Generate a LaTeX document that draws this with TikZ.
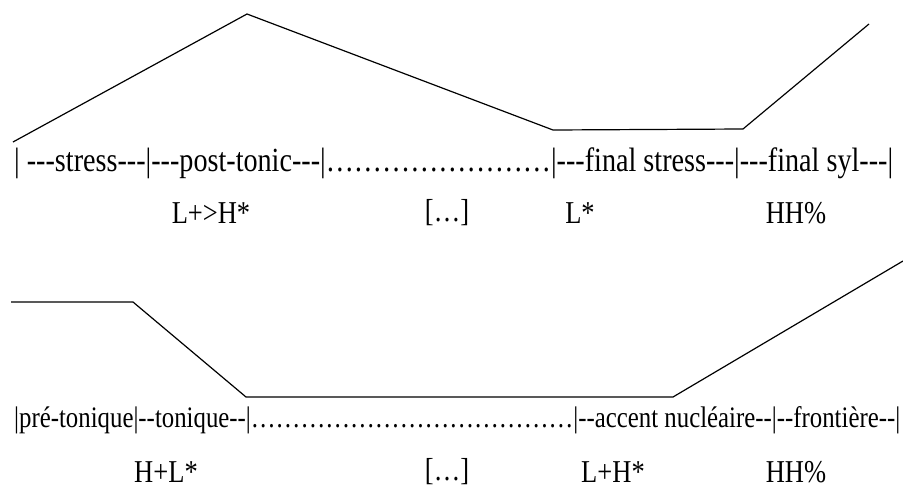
\documentclass[tikz,border=0pt]{standalone}
\usepackage{fontspec}
\setmainfont{Liberation Serif}[Ligatures=TeXOff]
\usepackage{graphicx}

% text in the picture is a little taller than wide
\newcommand{\vstretch}[1]{\scalebox{1}[1.2]{#1}}

\begin{document}
\begin{tikzpicture}[
    x=1pt, y=-1pt,
    every node/.style={inner sep=0pt},
    tier/.style={anchor=west, font=\fontsize{28}{32}\selectfont},
    tone/.style={anchor=center, font=\fontsize{26.5}{30}\selectfont},
    contour/.style={line width=1.2pt, line join=miter},
]
\useasboundingbox (0,0) rectangle (903,490);

% === TOP: stress / final syllable ===
\coordinate (t0) at (13,142);
\coordinate (t1) at (247,14);
\coordinate (t2) at (553,130);
\coordinate (t3) at (743,129);
\coordinate (t4) at (869,24);
\draw[contour] (t0) -- (t1) -- (t2) -- (t3) -- (t4);

\node[tier] (ttier) at (14,163) {\vstretch{\resizebox{879pt}{!}{| ---stress---|---post-tonic---|……………………|---final stress---|---final syl---|}}};

\node[tone] (tLH) at (211,213) {\vstretch{L+>H*}};
\node[tone] (tmid) at (447,213) {\vstretch{[…]}};
\node[tone] (tL) at (580,213) {\vstretch{L*}};
\node[tone] (tHH) at (796,213) {\vstretch{HH\%}};

% === BOTTOM: pré-tonique / frontière ===
\coordinate (b0) at (11,302);
\coordinate (b1) at (133,302);
\coordinate (b2) at (246,397);
\coordinate (b3) at (673,397);
\coordinate (b4) at (903,261);
\draw[contour] (b0) -- (b1) -- (b2) -- (b3) -- (b4);

\node[tier] (btier) at (14,420) {\vstretch{\resizebox{886pt}{!}{|pré-tonique|--tonique--|…………………………………|--accent nucléaire--|--frontière--|}}};

\node[tone] (bHL) at (166,472) {\vstretch{H+L*}};
\node[tone] (bmid) at (447,472) {\vstretch{[…]}};
\node[tone] (bLH) at (613,472) {\vstretch{L+H*}};
\node[tone] (bHH) at (796,472) {\vstretch{HH\%}};

\end{tikzpicture}
\end{document}
